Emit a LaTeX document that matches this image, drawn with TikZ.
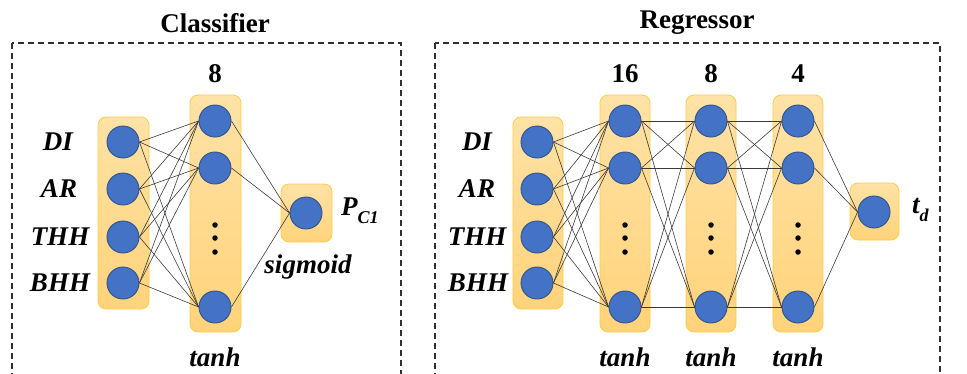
\documentclass[tikz,border=0pt]{standalone}
\usepackage{fontspec}
\setmainfont{Liberation Serif}
\definecolor{nblue}{HTML}{4472C4}
\definecolor{nedge}{HTML}{2F528F}
\definecolor{lyTop}{HTML}{FFE2A6}
\definecolor{lyBot}{HTML}{FFD37A}
\definecolor{lyEdge}{HTML}{FFCB45}
\definecolor{linkc}{HTML}{3A3A3A}
\definecolor{framec}{HTML}{303030}
\begin{document}
\begin{tikzpicture}[x=1pt,y=-1pt,
  neuron/.style={circle, minimum size=32pt, inner sep=0pt, fill=nblue, draw=nedge, line width=0.9pt},
  layerbox/.style={rounded corners=8pt, top color=lyTop, bottom color=lyBot, draw=lyEdge, line width=0.8pt, inner sep=0pt},
  link/.style={draw=linkc, line width=0.6pt},
  lbl/.style={font=\fontsize{27}{32}\selectfont\bfseries\itshape, inner sep=0pt},
  ttl/.style={font=\fontsize{27}{32}\selectfont\bfseries, inner sep=0pt},
  subtxt/.style={font=\fontsize{18}{18}\selectfont\bfseries\itshape},
  dashframe/.style={draw=framec, dash pattern=on 6pt off 4pt, line width=1.1pt},
  dotmark/.style={circle, fill=black, minimum size=5.5pt, inner sep=0pt}
]
\path[use as bounding box, clip] (0,0) rectangle (967,373);

% outer dashed frames (they run past the lower edge)
\draw[dashframe] (12,43) rectangle (401,390);
\draw[dashframe] (435,43) rectangle (940,390);

% titles
\node[ttl] (tc) at (215,23) {Classifier};
\node[ttl] (tr) at (697,23) {Regressor};

% ---------------- classifier ----------------
\node[layerbox, minimum width=51pt, minimum height=192pt] (cin) at (123.5,213) {};
\node[layerbox, minimum width=51pt, minimum height=237pt] (chid) at (215.5,213.5) {};
\node[layerbox, minimum width=51pt, minimum height=58pt] (cout) at (306.5,213) {};

\foreach \i/\y in {1/142,2/189,3/237,4/283}
  \node[neuron] (ci\i) at (123,\y) {};
\foreach \j/\y in {1/121,2/168,3/307}
  \node[neuron] (ch\j) at (215,\y) {};
\node[neuron] (co) at (306,213) {};

\foreach \y in {225,238,252} \node[dotmark] at (215,\y) {};

\foreach \i in {1,...,4}
  \foreach \j in {1,2,3}
    \draw[link] (ci\i.east) -- (ch\j.west);
\foreach \j in {1,2,3}
  \draw[link] (ch\j.east) -- (co.west);

\node[lbl] (cl1) at (58,142) {DI};
\node[lbl] (cl2) at (59,189) {AR};
\node[lbl] (cl3) at (60,237) {THH};
\node[lbl] (cl4) at (60,283) {BHH};

\node[ttl] (cn) at (215,74) {8};
\node[lbl] (cact) at (215,357) {tanh};
\node[lbl] (csig) at (308,267) {sigmoid};
\node[lbl, anchor=west] (cpc) at (341,211) {P\raisebox{-0.28em}{\fontsize{18}{18}\selectfont C1}};

% ---------------- regressor ----------------
\node[layerbox, minimum width=50pt, minimum height=192pt] (rin) at (538,213) {};
\foreach \k/\x in {1/625,2/711,3/798}
  \node[layerbox, minimum width=50pt, minimum height=237pt] (rbox\k) at (\x,213.5) {};
\node[layerbox, minimum width=49pt, minimum height=57pt] (rout) at (874.5,211.5) {};

\foreach \i/\y in {1/142,2/189,3/237,4/283}
  \node[neuron] (ri\i) at (537,\y) {};
\foreach \k/\x in {1/625,2/711,3/798} {
  \foreach \j/\y in {1/121,2/168,3/307}
    \node[neuron] (r\k n\j) at (\x,\y) {};
  \foreach \y in {225,238,252} \node[dotmark] at (\x,\y) {};
}
\node[neuron] (ro) at (874,212) {};

\foreach \i in {1,...,4}
  \foreach \j in {1,2,3}
    \draw[link] (ri\i.east) -- (r1n\j.west);
\foreach \a/\b in {1/2,2/3}
  \foreach \i in {1,2,3}
    \foreach \j in {1,2,3}
      \draw[link] (r\a n\i.east) -- (r\b n\j.west);
\foreach \j in {1,2,3}
  \draw[link] (r3n\j.east) -- (ro.west);

\node[lbl] (rl1) at (477,142) {DI};
\node[lbl] (rl2) at (477,189) {AR};
\node[lbl] (rl3) at (477,237) {THH};
\node[lbl] (rl4) at (478,283) {BHH};

\node[ttl] (rn1) at (625,74) {16};
\node[ttl] (rn2) at (711,74) {8};
\node[ttl] (rn3) at (798,74) {4};
\foreach \k/\x in {1/625,2/711,3/798}
  \node[lbl] (ract\k) at (\x,357) {tanh};
\node[lbl, anchor=west] (rtd) at (912,210) {t\raisebox{-0.28em}{\fontsize{18}{18}\selectfont d}};
\end{tikzpicture}
\end{document}
